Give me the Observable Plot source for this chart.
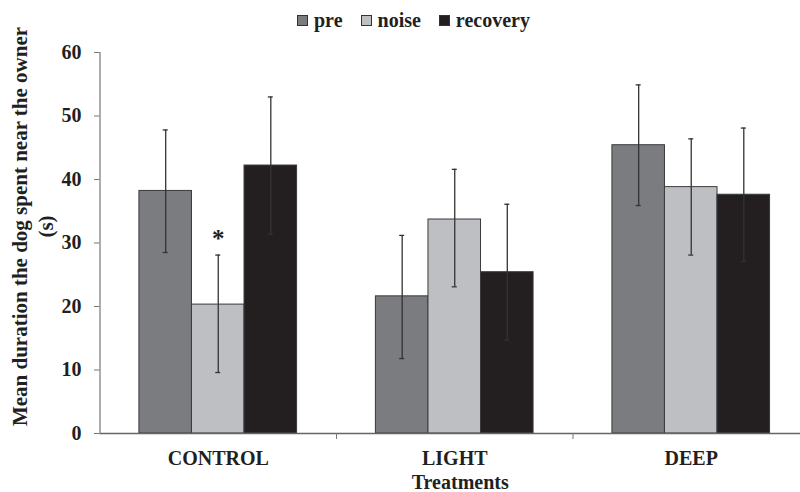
<!DOCTYPE html>
<html><head><meta charset="utf-8">
<script src="https://cdn.jsdelivr.net/npm/d3@7"></script>
<script src="https://cdn.jsdelivr.net/npm/@observablehq/plot@0.6"></script>
<style>
html,body{margin:0;padding:0;background:#fff;}
body{font-family:"Liberation Serif","Times New Roman",serif;color:#231f20;}
#legend{height:40px;display:flex;align-items:center;padding-left:297px;font-weight:bold;font-size:20px;box-sizing:border-box;}
.item{display:flex;align-items:center;margin-right:18px;}
.sw{width:9px;height:9px;border:1px solid #333;margin-right:6px;}
</style></head>
<body>
<div id="legend"></div>
<div id="chart"></div>
<script>
const treatments = ["CONTROL", "LIGHT", "DEEP"];
const phases = ["pre", "noise", "recovery"];
const colors = ["#7b7c80", "#bebfc3", "#231f20"];
const preMean = [38.2, 21.6, 45.4];
const noiseMean = [20.3, 33.7, 38.8];
const recoveryMean = [42.2, 25.4, 37.6];
const preHi = [47.8, 31.2, 54.9];
const noiseHi = [28.1, 41.6, 46.4];
const recoveryHi = [53.0, 36.1, 48.1];
const preLo = [28.5, 11.8, 35.9];
const noiseLo = [9.6, 23.1, 28.1];
const recoveryLo = [31.4, 14.7, 27.1];
const yTicks = [0, 10, 20, 30, 40, 50, 60];
const marked = [{treatment: "CONTROL", phase: "noise", label: "*"}];

const means = [preMean, noiseMean, recoveryMean];
const his = [preHi, noiseHi, recoveryHi];
const los = [preLo, noiseLo, recoveryLo];
const barW = 1 / 4.5;

const data = [];
treatments.forEach((t, gi) => phases.forEach((p, pi) => {
  data.push({treatment: t, phase: p, gi, pi, mean: means[pi][gi], hi: his[pi][gi], lo: los[pi][gi]});
}));
const x1 = d => d.gi + (d.pi - 1.5) * barW;
const xc = d => d.gi + (d.pi - 1) * barW;
const markedData = marked.map(m => {
  const d = data.find(e => e.treatment === m.treatment && e.phase === m.phase);
  return {...d, label: m.label};
});
const bounds = treatments.slice(1).map((_, i) => i + 0.5);

// legend
const lg = document.getElementById("legend");
phases.forEach((p, i) => {
  const it = document.createElement("div"); it.className = "item";
  const sw = document.createElement("div"); sw.className = "sw"; sw.style.background = colors[i];
  const tx = document.createElement("span"); tx.textContent = p;
  it.appendChild(sw); it.appendChild(tx); lg.appendChild(it);
});

const font = "Liberation Serif";
const chart = Plot.plot({
  width: 800,
  height: 452,
  marginLeft: 99.5,
  marginRight: 0,
  marginTop: 12,
  marginBottom: 59,
  style: {fontFamily: font, fontWeight: "bold", background: "#fff", color: "#231f20", overflow: "visible"},
  x: {domain: [-0.5, 2.462], axis: null},
  y: {domain: [0, 60], axis: null},
  color: {domain: phases, range: colors},
  marks: [
    Plot.rectY(data, {x1: x1, x2: d => x1(d) + barW, y1: 0, y2: "mean", fill: "phase", stroke: "#3a3a3a", strokeWidth: 1}),
    Plot.ruleX(data, {x: xc, y1: "lo", y2: "hi", stroke: "#333", strokeWidth: 1.3}),
    Plot.ruleY(data, {x1: xc, x2: xc, y: "hi", insetLeft: -2.5, insetRight: -2.5, stroke: "#333", strokeWidth: 1.3}),
    Plot.ruleY(data, {x1: xc, x2: xc, y: "lo", insetLeft: -2.5, insetRight: -2.5, stroke: "#333", strokeWidth: 1.3}),
    Plot.text(markedData, {x: xc, y: "hi", text: "label", lineAnchor: "bottom", dy: -8, fontSize: 25, fontWeight: "bold", fill: "#231f20", fontFamily: font}),
    Plot.ruleY([0], {stroke: "#666", strokeWidth: 1.5}),
    Plot.ruleX([-0.5], {y1: 0, y2: 60, stroke: "#777", strokeWidth: 1.2}),
    Plot.axisY({ticks: yTicks, tickSize: 5.5, tickPadding: 13, fontSize: 20, fontWeight: "bold", stroke: "#777", fill: "#231f20", label: null}),
    Plot.axisX({ticks: bounds, tickSize: 6, tickFormat: () => "", stroke: "#777", label: null}),
    Plot.axisX({ticks: treatments.map((_, i) => i), tickSize: 0, tickPadding: 17, tickFormat: i => treatments[i], fontSize: 20, fontWeight: "bold", fill: "#231f20", label: null}),
    Plot.text(["Treatments"], {frameAnchor: "bottom", dy: 55, dx: 10, lineAnchor: "bottom", fontSize: 20, fontWeight: "bold", fill: "#231f20", fontFamily: font}),
    Plot.text(["Mean duration the dog spent near the owner\n(s)"], {frameAnchor: "left", textAnchor: "middle", rotate: -90, dx: -68, dy: -16.5, lineAnchor: "middle", lineHeight: 1.2, fontSize: 21, fontWeight: "bold", fill: "#231f20", fontFamily: font})
  ]
});
document.getElementById("chart").appendChild(chart);
</script>
</body></html>
